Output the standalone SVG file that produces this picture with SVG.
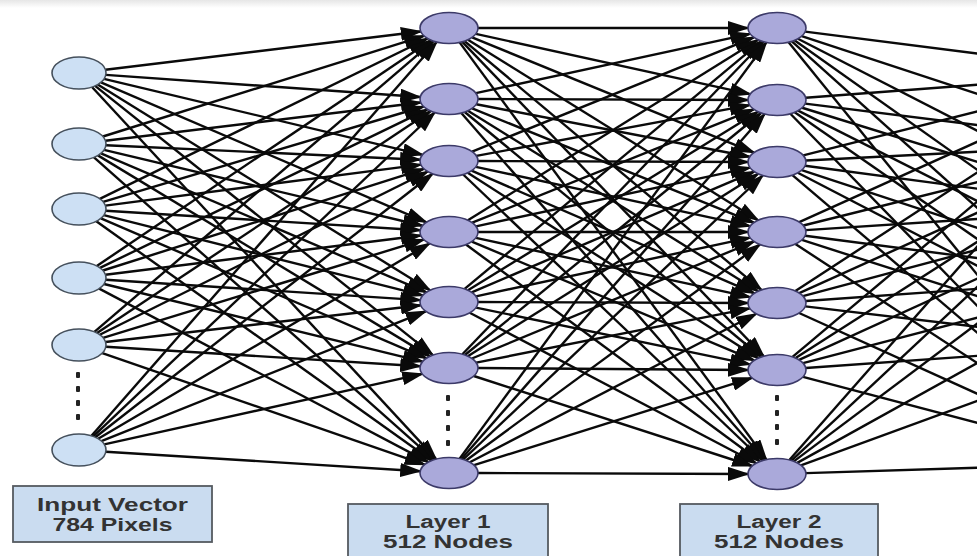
<svg xmlns="http://www.w3.org/2000/svg" width="977" height="556" viewBox="0 0 977 556">
<style>
.c path{stroke:#0a0a0a;stroke-width:2.4;fill:none}
.a path{marker-end:url(#arr)}
.in ellipse{fill:#cde0f4;stroke:#45505c;stroke-width:1.6}
.hid ellipse{fill:#aaa9da;stroke:#3c3a68;stroke-width:1.6}
.box rect{fill:#cadcf0;stroke:#555a60;stroke-width:1.8}
.box text{font-family:"Liberation Sans",Arial,sans-serif;font-size:18px;font-weight:bold;fill:#333333;text-anchor:middle}
.dots rect{fill:#222}
</style>
<defs>
<marker id="arr" markerUnits="userSpaceOnUse" markerWidth="24" markerHeight="14" viewBox="0 0 24 14" refX="20" refY="7" orient="auto">
<path d="M0,0 L22,7 L0,14 z" fill="#0a0a0a"/>
</marker>
<linearGradient id="topg" x1="0" y1="0" x2="0" y2="1">
<stop offset="0" stop-color="#e6e6e6"/>
<stop offset="1" stop-color="#ffffff"/>
</linearGradient>
</defs>
<rect x="0" y="0" width="977" height="556" fill="#ffffff"/>
<rect x="0" y="0" width="977" height="8" fill="url(#topg)"/>
<g id="connectors" class="c">
<g class="a" id="in-l1">
<path d="M105.4,69.8 L420.8,31.5"/>
<path d="M105.8,74.9 L420.3,97"/>
<path d="M104,78.9 L422.6,154.8"/>
<path d="M100.9,82.4 L426.4,222.3"/>
<path d="M97.7,84.5 L430,290.3"/>
<path d="M95.1,85.9 L432.9,355.1"/>
<path d="M92,87 L436.1,459.1"/>
<path d="M102.9,136.5 L424,35.9"/>
<path d="M105.4,140.8 L420.8,102.5"/>
<path d="M105.9,145.2 L420.1,159.7"/>
<path d="M104,149.9 L422.6,225.75"/>
<path d="M100.9,153.3 L426.4,292.3"/>
<path d="M97.9,155.4 L429.8,356.4"/>
<path d="M94,157.3 L434,459.7"/>
<path d="M99.8,198.8 L427.6,38.5"/>
<path d="M103.1,201.8 L423.7,106.5"/>
<path d="M105.3,205.6 L420.9,164.65"/>
<path d="M105.8,210.7 L420.2,230.2"/>
<path d="M103.8,215.2 L422.8,295.45"/>
<path d="M100.9,218.4 L426.4,358.3"/>
<path d="M96.3,221.3 L431.6,460.6"/>
<path d="M96.8,266 L431,40.15"/>
<path d="M99.9,267.9 L427.5,109.4"/>
<path d="M102.9,270.5 L424,168.9"/>
<path d="M105.4,274.8 L420.8,235.45"/>
<path d="M105.8,279.75 L420.25,300.1"/>
<path d="M104,284 L422.6,361.6"/>
<path d="M99.2,288.6 L428.3,462.15"/>
<path d="M94.4,331.85 L433.6,41.1"/>
<path d="M97,333.1 L430.8,111.05"/>
<path d="M99.7,334.7 L427.75,171.55"/>
<path d="M103,337.8 L423.8,239.7"/>
<path d="M105.45,341.95 L420.7,305.3"/>
<path d="M105.8,346.7 L420.2,366.2"/>
<path d="M102.3,353.05 L424.7,464.6"/>
<path d="M91.5,435.8 L436.65,42"/>
<path d="M93.25,436.45 L434.75,112.5"/>
<path d="M95.35,437.25 L432.6,173.8"/>
<path d="M98.15,438.7 L429.5,243.5"/>
<path d="M101.4,441.05 L425.8,311.3"/>
<path d="M104.25,444.4 L422.25,373.9"/>
<path d="M105.8,451.7 L420.2,471.2"/>
</g>
<g class="a" id="l1-l2">
<path d="M478,28 L748,28"/>
<path d="M475.8,33.85 L750.2,94.15"/>
<path d="M472.05,37.4 L753.95,152.6"/>
<path d="M467.9,39.75 L758.1,220.25"/>
<path d="M464.6,41.05 L761.4,289.95"/>
<path d="M462.3,41.8 L763.7,356.2"/>
<path d="M459.6,42.4 L766.4,459.6"/>
<path d="M475.85,93.2 L750.15,33.8"/>
<path d="M478,99 L748,100"/>
<path d="M476.3,104.2 L749.7,156.8"/>
<path d="M472.1,108.35 L753.9,222.65"/>
<path d="M467.9,110.75 L758.1,291.25"/>
<path d="M464.75,112 L761.25,357"/>
<path d="M461.3,113 L764.7,460"/>
<path d="M472.1,151.65 L753.9,37.35"/>
<path d="M476.35,155.9 L749.65,105.1"/>
<path d="M478,161 L748,162"/>
<path d="M475.85,166.8 L750.15,226.2"/>
<path d="M471.55,170.7 L754.45,293.3"/>
<path d="M467.7,172.85 L758.3,358.15"/>
<path d="M463.2,174.5 L762.8,460.5"/>
<path d="M467.9,220.25 L758.1,39.75"/>
<path d="M472.2,222.7 L753.8,109.3"/>
<path d="M475.9,226.3 L750.1,167.7"/>
<path d="M478,232 L748,232"/>
<path d="M475.85,237.8 L750.15,297.2"/>
<path d="M471.8,241.55 L754.2,360.45"/>
<path d="M466,244.55 L760,461.45"/>
<path d="M464.65,288.95 L761.35,41.05"/>
<path d="M468,290.3 L758,111.7"/>
<path d="M471.65,292.35 L754.35,171.65"/>
<path d="M475.9,296.3 L750.1,237.7"/>
<path d="M478,302 L748,303"/>
<path d="M476,307.6 L750,364.4"/>
<path d="M469.7,312.8 L756.3,463.2"/>
<path d="M462.35,354.25 L763.65,41.75"/>
<path d="M464.9,355.05 L761.1,112.95"/>
<path d="M467.8,356.2 L758.2,173.8"/>
<path d="M471.9,358.5 L754.1,241.5"/>
<path d="M476.2,362.65 L749.8,308.35"/>
<path d="M478,368 L748,370"/>
<path d="M473.8,376 L752.2,466"/>
<path d="M459.6,458.6 L766.4,42.4"/>
<path d="M461.35,459 L764.65,114"/>
<path d="M463.25,459.5 L762.75,175.5"/>
<path d="M466.05,460.45 L759.95,244.55"/>
<path d="M469.8,462.2 L756.2,313.8"/>
<path d="M474,465.15 L752,377.85"/>
<path d="M478,473 L748,474"/>
</g>
<g id="l2-out">
<path d="M805.15,31.6 L1130,73"/>
<path d="M801.7,36.1 L1130,144"/>
<path d="M797.9,38.7 L1130,209"/>
<path d="M794.45,40.35 L1130,278"/>
<path d="M791.85,41.3 L1130,345"/>
<path d="M788.6,42.2 L1130,463"/>
<path d="M805.75,97.8 L1130,73"/>
<path d="M805.15,103.6 L1130,144"/>
<path d="M802.1,107.75 L1130,209"/>
<path d="M798.1,110.6 L1130,278"/>
<path d="M794.7,112.3 L1130,345"/>
<path d="M790.4,113.75 L1130,463"/>
<path d="M803.2,155.4 L1130,73"/>
<path d="M805.9,160.5 L1130,144"/>
<path d="M805.05,165.75 L1130,209"/>
<path d="M801.7,170.1 L1130,278"/>
<path d="M797.8,172.8 L1130,345"/>
<path d="M792.45,175.1 L1130,463"/>
<path d="M799.2,222.05 L1130,73"/>
<path d="M803.25,225.5 L1130,144"/>
<path d="M805.75,230.1 L1130,209"/>
<path d="M805.1,235.7 L1130,278"/>
<path d="M801.9,239.95 L1130,345"/>
<path d="M795.4,244 L1130,463"/>
<path d="M795.4,291 L1130,73"/>
<path d="M799.2,293.05 L1130,144"/>
<path d="M802.9,296.15 L1130,209"/>
<path d="M805.7,301 L1130,278"/>
<path d="M805.25,306.35 L1130,345"/>
<path d="M799.1,313 L1130,463"/>
<path d="M792.55,356.9 L1130,73"/>
<path d="M795.6,358.1 L1130,144"/>
<path d="M799.05,359.95 L1130,209"/>
<path d="M803,363.2 L1130,278"/>
<path d="M805.7,368 L1130,345"/>
<path d="M803,376.8 L1130,463"/>
<path d="M789.35,460 L1130,73"/>
<path d="M791.4,460.55 L1130,144"/>
<path d="M793.8,461.4 L1130,209"/>
<path d="M797.2,462.9 L1130,278"/>
<path d="M800.9,465.3 L1130,345"/>
<path d="M806,473.1 L1130,463"/>
</g>
</g>
<g id="input-layer" class="in">
<g id="in1"><ellipse cx="79" cy="73" rx="27" ry="16"/></g>
<g id="in2"><ellipse cx="79" cy="144" rx="27" ry="16"/></g>
<g id="in3"><ellipse cx="79" cy="209" rx="27" ry="16"/></g>
<g id="in4"><ellipse cx="79" cy="278" rx="27" ry="16"/></g>
<g id="in5"><ellipse cx="79" cy="345" rx="27" ry="16"/></g>
<g id="in6"><ellipse cx="79" cy="450" rx="27" ry="16"/></g>
</g>
<g id="layer1" class="hid">
<g id="l1n1"><ellipse cx="449" cy="28" rx="29" ry="15.5"/></g>
<g id="l1n2"><ellipse cx="449" cy="99" rx="29" ry="15.5"/></g>
<g id="l1n3"><ellipse cx="449" cy="161" rx="29" ry="15.5"/></g>
<g id="l1n4"><ellipse cx="449" cy="232" rx="29" ry="15.5"/></g>
<g id="l1n5"><ellipse cx="449" cy="302" rx="29" ry="15.5"/></g>
<g id="l1n6"><ellipse cx="449" cy="368" rx="29" ry="15.5"/></g>
<g id="l1n7"><ellipse cx="449" cy="473" rx="29" ry="15.5"/></g>
</g>
<g id="layer2" class="hid">
<g id="l2n1"><ellipse cx="777" cy="28" rx="29" ry="15.5"/></g>
<g id="l2n2"><ellipse cx="777" cy="100" rx="29" ry="15.5"/></g>
<g id="l2n3"><ellipse cx="777" cy="162" rx="29" ry="15.5"/></g>
<g id="l2n4"><ellipse cx="777" cy="232" rx="29" ry="15.5"/></g>
<g id="l2n5"><ellipse cx="777" cy="303" rx="29" ry="15.5"/></g>
<g id="l2n6"><ellipse cx="777" cy="370" rx="29" ry="15.5"/></g>
<g id="l2n7"><ellipse cx="777" cy="474" rx="29" ry="15.5"/></g>
</g>
<g id="ellipsis-dots" class="dots">
<rect x="76" y="372" width="4" height="6" rx="1"/>
<rect x="76" y="386" width="4" height="6" rx="1"/>
<rect x="76" y="400" width="4" height="6" rx="1"/>
<rect x="76" y="414" width="4" height="6" rx="1"/>
<rect x="446" y="395" width="4" height="6" rx="1"/>
<rect x="446" y="410" width="4" height="6" rx="1"/>
<rect x="446" y="425" width="4" height="6" rx="1"/>
<rect x="446" y="440" width="4" height="6" rx="1"/>
<rect x="775" y="395" width="4" height="6" rx="1"/>
<rect x="775" y="410" width="4" height="6" rx="1"/>
<rect x="775" y="424" width="4" height="6" rx="1"/>
<rect x="775" y="439" width="4" height="6" rx="1"/>
</g>
<g id="label-input" class="box">
<rect x="13" y="486" width="199" height="56"/>
<text x="112.5" y="511" textLength="151" lengthAdjust="spacingAndGlyphs">Input Vector</text>
<text x="112.5" y="531" textLength="120" lengthAdjust="spacingAndGlyphs">784 Pixels</text>
</g>
<g id="label-layer1" class="box">
<rect x="348" y="504" width="200" height="60"/>
<text x="448" y="528" textLength="85" lengthAdjust="spacingAndGlyphs">Layer 1</text>
<text x="448" y="548" textLength="130" lengthAdjust="spacingAndGlyphs">512 Nodes</text>
</g>
<g id="label-layer2" class="box">
<rect x="680" y="504" width="198" height="60"/>
<text x="779" y="528" textLength="85" lengthAdjust="spacingAndGlyphs">Layer 2</text>
<text x="779" y="548" textLength="130" lengthAdjust="spacingAndGlyphs">512 Nodes</text>
</g>
</svg>
